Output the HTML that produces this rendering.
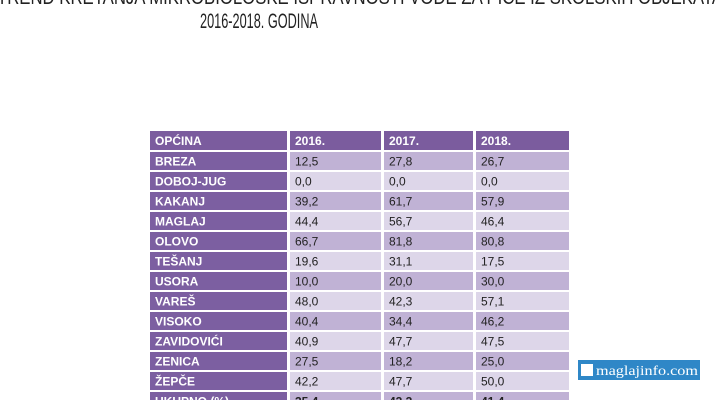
<!DOCTYPE html>
<html><head><meta charset="utf-8"><style>
html,body{margin:0;padding:0;background:#fff;width:720px;height:400px;overflow:hidden}
</style></head><body>
<svg width="720" height="400" xmlns="http://www.w3.org/2000/svg" font-family="Liberation Sans, sans-serif">
<rect width="720" height="400" fill="#fff"/>
<text x="-3" y="4" font-size="21" fill="#222" textLength="726" lengthAdjust="spacingAndGlyphs">TREND KRETANJA MIKROBIOLOŠKE ISPRAVNOSTI VODE ZA PIĆE IZ ŠKOLSKIH OBJEKATA</text>
<text x="200" y="28" font-size="21" fill="#222" textLength="118" lengthAdjust="spacingAndGlyphs">2016-2018. GODINA</text>
<rect x="150" y="131" width="137" height="19" fill="#7b5c9e"/>
<rect x="290" y="131" width="91" height="19" fill="#7b5c9e"/>
<rect x="384" y="131" width="89" height="19" fill="#7b5c9e"/>
<rect x="476" y="131" width="93" height="19" fill="#7b5c9e"/>
<g font-size="12" font-weight="bold" fill="#fff">
<text x="155" y="145">OPĆINA</text><text x="295" y="145">2016.</text><text x="389" y="145">2017.</text><text x="481" y="145">2018.</text>
</g>
<g font-size="12" id="rows"></g>
<script>
var d=[["BREZA","12,5","27,8","26,7"],["DOBOJ-JUG","0,0","0,0","0,0"],["KAKANJ","39,2","61,7","57,9"],["MAGLAJ","44,4","56,7","46,4"],["OLOVO","66,7","81,8","80,8"],["TEŠANJ","19,6","31,1","17,5"],["USORA","10,0","20,0","30,0"],["VAREŠ","48,0","42,3","57,1"],["VISOKO","40,4","34,4","46,2"],["ZAVIDOVIĆI","40,9","47,7","47,5"],["ZENICA","27,5","18,2","25,0"],["ŽEPČE","42,2","47,7","50,0"],["UKUPNO (%)","35,4","43,3","41,4"]];
var ns="http://www.w3.org/2000/svg",g=document.getElementById("rows");
function el(t,a,txt){var e=document.createElementNS(ns,t);for(var k in a)e.setAttribute(k,a[k]);if(txt)e.textContent=txt;g.appendChild(e);}
var xs=[[150,137],[290,91],[384,89],[476,93]];
d.forEach(function(r,i){var y=152+i*20;var c=(i%2==0)?"#c0b2d5":"#ddd6e9";
for(var j=0;j<4;j++){el("rect",{x:xs[j][0],y:y,width:xs[j][1],height:18,fill:j==0?"#7c5fa1":c});
el("text",{x:xs[j][0]+5,y:y+13.5,fill:j==0?"#fff":"#222","font-weight":(j==0||i==12)?"bold":"normal"},r[j]);}});
</script>
<rect x="578" y="360" width="122" height="20" fill="#2f87c7"/>
<rect x="581" y="364" width="12" height="12" fill="#fff"/>
<text x="596" y="375" font-family="Liberation Serif, serif" font-size="14" fill="#fff" textLength="102" lengthAdjust="spacingAndGlyphs">maglajinfo.com</text>
</svg>
</body></html>
